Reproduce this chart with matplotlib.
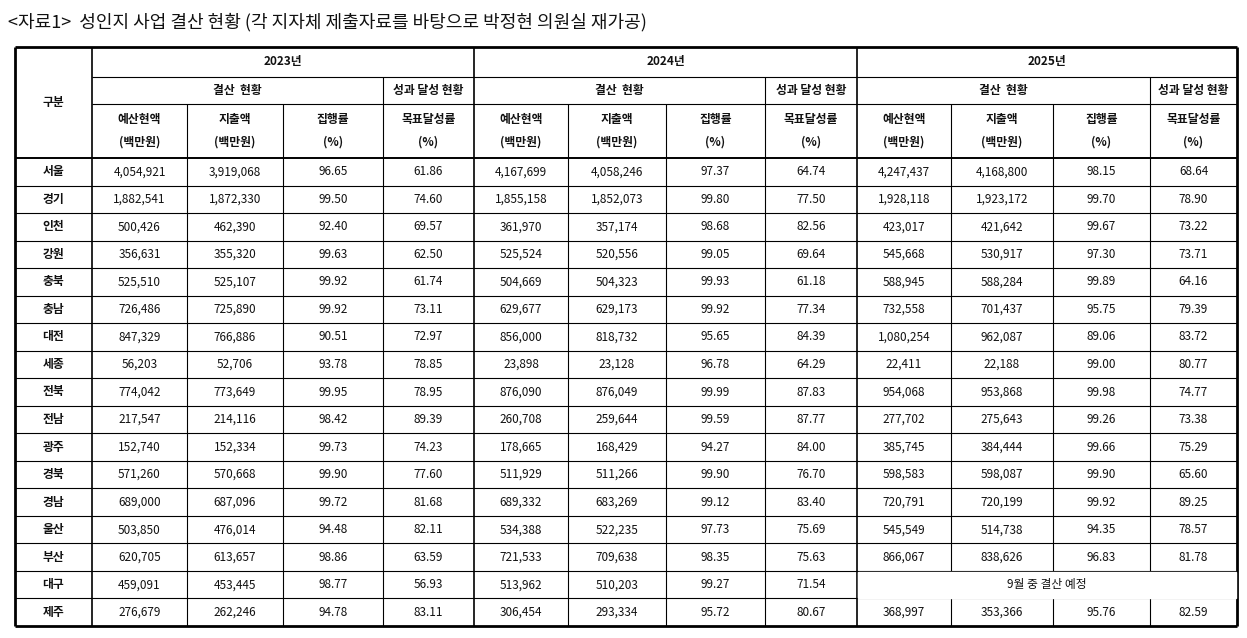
import matplotlib
matplotlib.use('Agg')
import matplotlib.pyplot as plt

plt.rcParams['font.family'] = ['Noto Sans CJK KR', 'DejaVu Sans']

title = '<자료1>  성인지 사업 결산 현황 (각 지자체 제출자료를 바탕으로 박정현 의원실 재가공)'
years = ['2023년', '2024년', '2025년']
regions = ['서울', '경기', '인천', '강원', '충북', '충남', '대전', '세종', '전북', '전남',
           '광주', '경북', '경남', '울산', '부산', '대구', '제주']

budget_2023 = [4054921, 1882541, 500426, 356631, 525510, 726486, 847329, 56203, 774042, 217547,
               152740, 571260, 689000, 503850, 620705, 459091, 276679]
spent_2023 = [3919068, 1872330, 462390, 355320, 525107, 725890, 766886, 52706, 773649, 214116,
              152334, 570668, 687096, 476014, 613657, 453445, 262246]
exec_2023 = [96.65, 99.50, 92.40, 99.63, 99.92, 99.92, 90.51, 93.78, 99.95, 98.42,
             99.73, 99.90, 99.72, 94.48, 98.86, 98.77, 94.78]
goal_2023 = [61.86, 74.60, 69.57, 62.50, 61.74, 73.11, 72.97, 78.85, 78.95, 89.39,
             74.23, 77.60, 81.68, 82.11, 63.59, 56.93, 83.11]

budget_2024 = [4167699, 1855158, 361970, 525524, 504669, 629677, 856000, 23898, 876090, 260708,
               178665, 511929, 689332, 534388, 721533, 513962, 306454]
spent_2024 = [4058246, 1852073, 357174, 520556, 504323, 629173, 818732, 23128, 876049, 259644,
              168429, 511266, 683269, 522235, 709638, 510203, 293334]
exec_2024 = [97.37, 99.80, 98.68, 99.05, 99.93, 99.92, 95.65, 96.78, 99.99, 99.59,
             94.27, 99.90, 99.12, 97.73, 98.35, 99.27, 95.72]
goal_2024 = [64.74, 77.50, 82.56, 69.64, 61.18, 77.34, 84.39, 64.29, 87.83, 87.77,
             84.00, 76.70, 83.40, 75.69, 75.63, 71.54, 80.67]

# 대구 2025 is None (결산 예정)
budget_2025 = [4247437, 1928118, 423017, 545668, 588945, 732558, 1080254, 22411, 954068, 277702,
               385745, 598583, 720791, 545549, 866067, None, 368997]
spent_2025 = [4168800, 1923172, 421642, 530917, 588284, 701437, 962087, 22188, 953868, 275643,
              384444, 598087, 720199, 514738, 838626, None, 353366]
exec_2025 = [98.15, 99.70, 99.67, 97.30, 99.89, 95.75, 89.06, 99.00, 99.98, 99.26,
             99.66, 99.90, 99.92, 94.35, 96.83, None, 95.76]
goal_2025 = [68.64, 78.90, 73.22, 73.71, 64.16, 79.39, 83.72, 80.77, 74.77, 73.38,
             75.29, 65.60, 89.25, 78.57, 81.78, None, 82.59]
pending_note = '9월 중 결산 예정'

fig = plt.figure(figsize=(12.47, 6.38), dpi=100)
ax = fig.add_axes([0, 0, 1, 1])
ax.set_xlim(0, 1247)
ax.set_ylim(638, 0)
ax.axis('off')

ax.text(8, 22, title, fontsize=13, va='center', ha='left', color='#111')

# geometry (pixels)
xs = [15, 92, 187, 283, 383, 474, 568, 666, 765, 857, 951, 1053, 1150, 1237]
y_top, y_h1, y_h2, y_h3 = 47, 77, 104, 158
row_h = (626 - y_h3) / len(regions)
y_bot = y_h3 + row_h * len(regions)

lw_thin, lw_thick = 0.8, 2.0
def hline(y, x0, x1, lw=lw_thin):
    ax.plot([x0, x1], [y, y], color='black', lw=lw, solid_capstyle='butt', zorder=5)
def vline(x, y0, y1, lw=lw_thin):
    ax.plot([x, x], [y0, y1], color='black', lw=lw, solid_capstyle='butt', zorder=5)

# outer border
hline(y_top, xs[0], xs[-1], lw_thick)
hline(y_bot, xs[0], xs[-1], lw_thick)
vline(xs[0], y_top, y_bot, lw_thick)
vline(xs[-1], y_top, y_bot, lw_thick)
hline(y_h3, xs[0], xs[-1], 1.4)

# header grid
hline(y_h1, xs[1], xs[-1])
hline(y_h2, xs[1], xs[-1])
vline(xs[1], y_top, y_bot, 1.2)
for g in range(3):
    b = 1 + g * 4
    if g > 0:
        vline(xs[b], y_top, y_bot, 1.2)
    vline(xs[b + 3], y_h1, y_bot)
    for k in (1, 2):
        vline(xs[b + k], y_h2, y_bot)

hdr = dict(fontsize=8.5, ha='center', va='center', color='#111', fontweight='bold')
ax.text((xs[0] + xs[1]) / 2, (y_top + y_h3) / 2, '구분', **hdr)
sub_names = ['예산현액\n(백만원)', '지출액\n(백만원)', '집행률\n(%)', '목표달성률\n(%)']
for g, yr in enumerate(years):
    b = 1 + g * 4
    ax.text((xs[b] + xs[b + 4]) / 2, (y_top + y_h1) / 2, yr, **hdr)
    ax.text((xs[b] + xs[b + 3]) / 2, (y_h1 + y_h2) / 2, '결산  현황', **hdr)
    ax.text((xs[b + 3] + xs[b + 4]) / 2, (y_h1 + y_h2) / 2, '성과 달성 현황', **hdr)
    for k, s in enumerate(sub_names):
        ax.text((xs[b + k] + xs[b + k + 1]) / 2, (y_h2 + y_h3) / 2, s,
                linespacing=1.9, **hdr)

groups = [(budget_2023, spent_2023, exec_2023, goal_2023),
          (budget_2024, spent_2024, exec_2024, goal_2024),
          (budget_2025, spent_2025, exec_2025, goal_2025)]

cell = dict(fontsize=8.5, ha='center', va='center', color='#111')
for i, reg in enumerate(regions):
    y0 = y_h3 + i * row_h
    yc = y0 + row_h / 2
    if i > 0:
        hline(y0, xs[0], xs[-1])
    ax.text((xs[0] + xs[1]) / 2, yc, reg, fontsize=8.5, ha='center', va='center',
            color='#111', fontweight='bold')
    for g, (bud, spe, exe, goa) in enumerate(groups):
        b = 1 + g * 4
        if bud[i] is None:
            ax.add_patch(plt.Rectangle((xs[b] + 0.6, y0 + 0.6), xs[b + 4] - xs[b] - 1.2,
                                       row_h - 1.2, color='white', zorder=6))
            ax.text((xs[b] + xs[b + 4]) / 2, yc, pending_note, zorder=7, **cell)
            continue
        vals = [f'{bud[i]:,}', f'{spe[i]:,}', f'{exe[i]:.2f}', f'{goa[i]:.2f}']
        for k, v in enumerate(vals):
            ax.text((xs[b + k] + xs[b + k + 1]) / 2, yc, v, **cell)

fig.savefig('out.png', dpi=100, facecolor='white')
